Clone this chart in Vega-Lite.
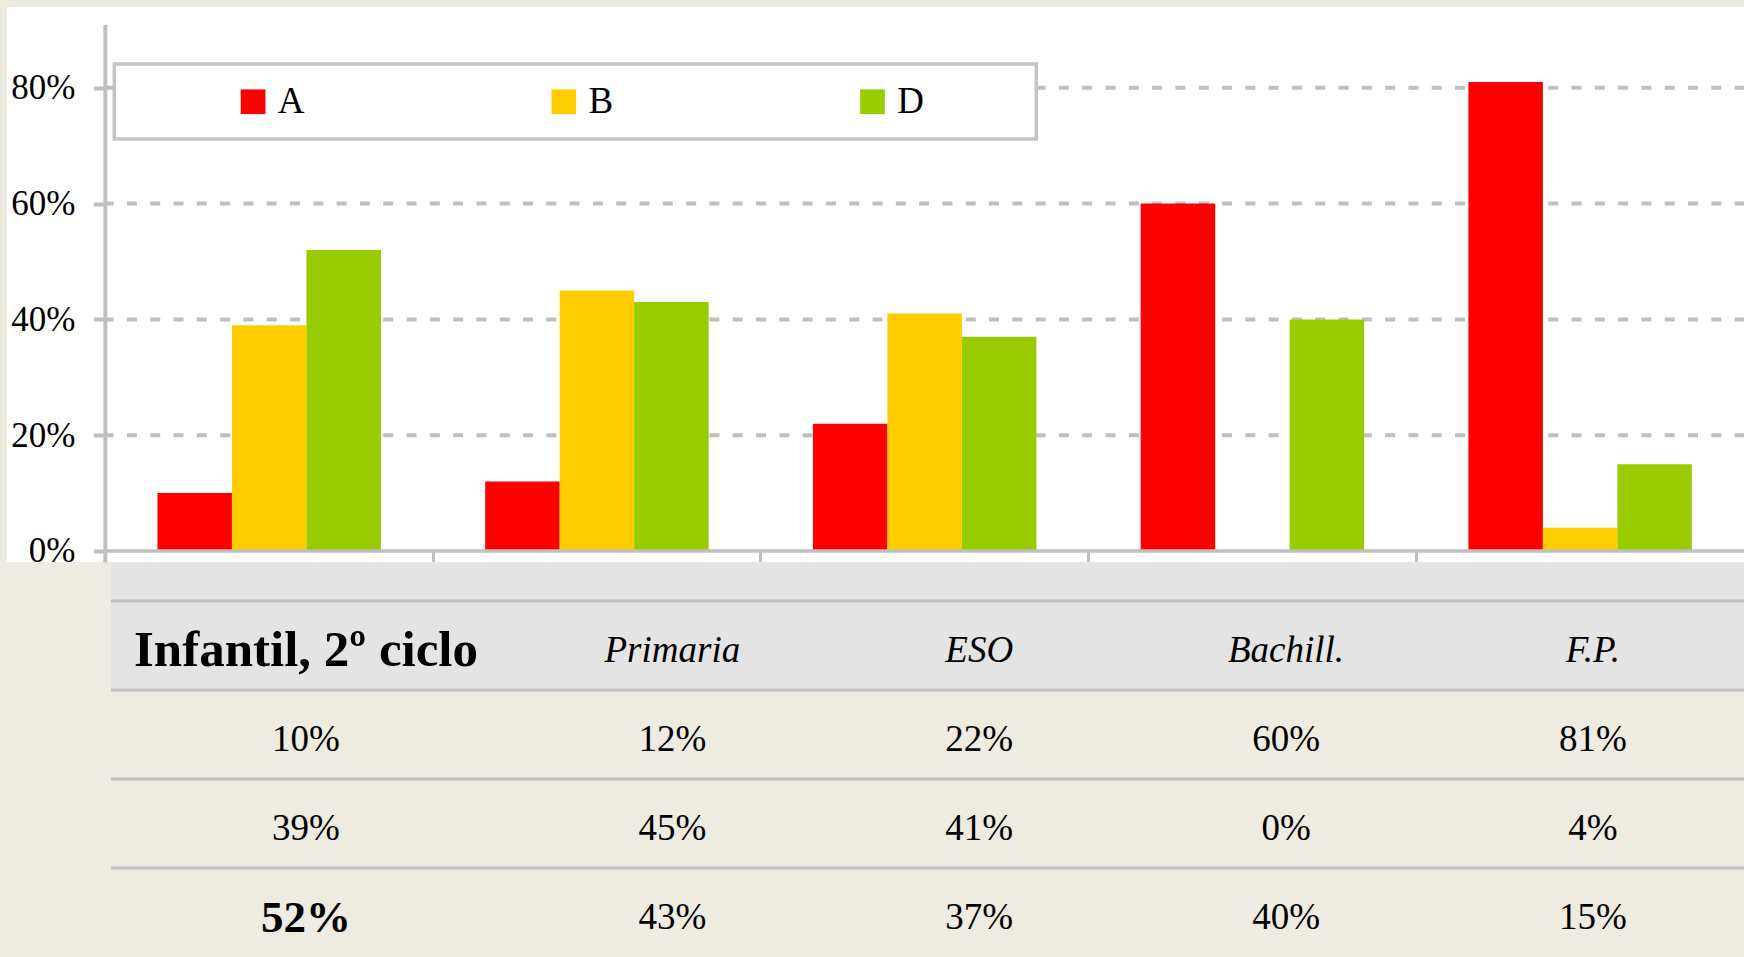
{
  "$schema": "https://vega.github.io/schema/vega-lite/v6.json",
  "background": "#EEEBE0",
  "padding": {"left": 7, "top": 7, "right": 0, "bottom": 0},
  "spacing": 0,
  "bounds": "flush",
  "config": {
    "font": "Liberation Serif",
    "view": {"stroke": null},
    "legend": {"strokeWidth": 3.5}
  },
  "datasets": {
    "valores": [
      {"nivel": "Infantil, 2º ciclo", "serie": "A", "valor": 0.10},
      {"nivel": "Infantil, 2º ciclo", "serie": "B", "valor": 0.39},
      {"nivel": "Infantil, 2º ciclo", "serie": "D", "valor": 0.52},
      {"nivel": "Primaria", "serie": "A", "valor": 0.12},
      {"nivel": "Primaria", "serie": "B", "valor": 0.45},
      {"nivel": "Primaria", "serie": "D", "valor": 0.43},
      {"nivel": "ESO", "serie": "A", "valor": 0.22},
      {"nivel": "ESO", "serie": "B", "valor": 0.41},
      {"nivel": "ESO", "serie": "D", "valor": 0.37},
      {"nivel": "Bachill.", "serie": "A", "valor": 0.60},
      {"nivel": "Bachill.", "serie": "B", "valor": 0.00},
      {"nivel": "Bachill.", "serie": "D", "valor": 0.40},
      {"nivel": "F.P.", "serie": "A", "valor": 0.81},
      {"nivel": "F.P.", "serie": "B", "valor": 0.04},
      {"nivel": "F.P.", "serie": "D", "valor": 0.15}
    ],
    "marcas": [{"p": 0}, {"p": 0.2}, {"p": 0.4}, {"p": 0.6}, {"p": 0.8}],
    "filas": [{"fila": "hdr"}, {"fila": "A"}, {"fila": "B"}, {"fila": "D"}]
  },
  "vconcat": [
    {
      "width": 1737,
      "height": 555,
      "view": {"fill": "#FFFFFF", "stroke": null},
      "layer": [
        {
          "data": {"name": "marcas"},
          "transform": [{"filter": "datum.p > 0"}],
          "mark": {"type": "rule", "stroke": "#BFBFBF", "strokeWidth": 4, "strokeDash": [10, 13.3], "strokeDashOffset": 1.7, "clip": true},
          "encoding": {
            "y": {"field": "p", "type": "quantitative", "scale": {"domain": [-0.019, 0.9396], "nice": false, "zero": false}},
            "x": {"datum": "Infantil, 2º ciclo", "type": "nominal", "bandPosition": 0, "scale": {"type": "band", "domain": ["Infantil, 2º ciclo", "Primaria", "ESO", "Bachill.", "F.P."], "paddingInner": 0, "paddingOuter": 0.15, "align": 1}},
            "x2": {"datum": "F.P.", "bandPosition": 1}
          }
        },
        {
          "data": {"name": "valores"},
          "mark": {"type": "bar"},
          "encoding": {
            "x": {
              "field": "nivel", "type": "nominal",
              "scale": {"type": "band", "domain": ["Infantil, 2º ciclo", "Primaria", "ESO", "Bachill.", "F.P."], "paddingInner": 0, "paddingOuter": 0.15, "align": 1},
              "axis": {"orient": "bottom", "offset": -11, "labels": false, "domain": false, "ticks": true, "bandPosition": 0, "tickExtra": false, "tickSize": 11, "tickWidth": 3, "tickColor": "#BFBFBF", "grid": false, "title": null}
            },
            "xOffset": {"field": "serie", "type": "nominal", "scale": {"paddingInner": 0, "paddingOuter": 0.7}},
            "y": {
              "field": "valor", "type": "quantitative",
              "scale": {"domain": [-0.019, 0.9396], "nice": false, "zero": false},
              "axis": {"orient": "left", "offset": -98.3, "values": [0, 0.2, 0.4, 0.6, 0.8], "format": ".0%", "domain": false, "grid": false, "labelFont": "Liberation Serif", "labelFontSize": 35, "labelColor": "#000000", "labelPadding": 18.3, "tickSize": 12, "tickWidth": 4, "tickColor": "#BFBFBF", "title": null}
            },
            "y2": {"datum": 0},
            "color": {
              "field": "serie", "type": "nominal",
              "scale": {"domain": ["A", "B", "D"], "range": ["#FF0000", "#FFCC00", "#99CC00"]},
              "legend": {
                "orient": "none", "legendX": 107.3, "legendY": 57,
                "direction": "horizontal", "gridAlign": "each",
                "title": ".", "titleOrient": "left", "titleFontSize": 10, "titleColor": "#FFFFFF", "titlePadding": 98.3,
                "padding": 19,
                "fillColor": "#FFFFFF", "strokeColor": "#C4C4C4",
                "symbolType": "square", "symbolSize": 610, "symbolStrokeWidth": 0, "symbolOpacity": 1,
                "labelFont": "Liberation Serif", "labelFontSize": 37, "labelColor": "#000000", "labelOffset": 6.2,
                "columnPadding": 240.7,
                "labelExpr": "datum.label === 'D' ? 'D\u00a0\u00a0\u00a0\u00a0\u00a0\u00a0\u00a0\u00a0\u00a0\u00a0\u200b' : datum.label"
              }
            }
          }
        },
        {
          "data": {"name": "marcas"},
          "transform": [{"filter": "datum.p == 0"}],
          "mark": {"type": "rule", "stroke": "#BFBFBF", "strokeWidth": 3.5, "clip": true},
          "encoding": {
            "y": {"field": "p", "type": "quantitative", "scale": {"domain": [-0.019, 0.9396], "nice": false, "zero": false}},
            "x": {"datum": "Infantil, 2º ciclo", "type": "nominal", "bandPosition": 0, "scale": {"type": "band", "domain": ["Infantil, 2º ciclo", "Primaria", "ESO", "Bachill.", "F.P."], "paddingInner": 0, "paddingOuter": 0.15, "align": 1}},
            "x2": {"datum": "F.P.", "bandPosition": 1}
          }
        },
        {
          "data": {"name": "marcas"},
          "transform": [{"filter": "datum.p == 0"}],
          "mark": {"type": "rule", "stroke": "#BFBFBF", "strokeWidth": 4, "clip": true},
          "encoding": {
            "x": {"datum": "Infantil, 2º ciclo", "type": "nominal", "bandPosition": 0, "scale": {"type": "band", "domain": ["Infantil, 2º ciclo", "Primaria", "ESO", "Bachill.", "F.P."], "paddingInner": 0, "paddingOuter": 0.15, "align": 1}},
            "y": {"datum": 0.9085, "type": "quantitative", "scale": {"domain": [-0.019, 0.9396], "nice": false, "zero": false}},
            "y2": {"datum": -0.019}
          }
        }
      ]
    },
    {
      "width": 1737,
      "height": 395,
      "view": {"stroke": null},
      "resolve": {"scale": {"x": "independent"}},
      "layer": [
        {
          "data": {"name": "filas"},
          "transform": [{"filter": "datum.fila === 'hdr'"}],
          "mark": {"type": "rect", "fill": "#E4E4E4", "clip": true},
          "encoding": {
            "x": {"datum": "Infantil, 2º ciclo", "type": "nominal", "bandPosition": 0, "scale": {"type": "band", "domain": ["Infantil, 2º ciclo", "Primaria", "ESO", "Bachill.", "F.P."], "paddingInner": 0, "paddingOuter": 0.1592, "align": 1}, "axis": null},
            "x2": {"datum": "F.P.", "bandPosition": 1},
            "y": {"field": "fila", "type": "nominal", "bandPosition": -0.438, "scale": {"type": "band", "domain": ["hdr", "A", "B", "D"], "paddingInner": 0, "paddingOuter": 0.2191, "align": 1}, "axis": null},
            "y2": {"field": "fila", "bandPosition": 1}
          }
        },
        {
          "data": {"name": "filas"},
          "mark": {"type": "rule", "stroke": "#C0C0C0", "strokeWidth": 3, "clip": true},
          "encoding": {
            "x": {"datum": "Infantil, 2º ciclo", "type": "nominal", "bandPosition": 0, "scale": {"type": "band", "domain": ["Infantil, 2º ciclo", "Primaria", "ESO", "Bachill.", "F.P."], "paddingInner": 0, "paddingOuter": 0.1592, "align": 1}, "axis": null},
            "x2": {"datum": "F.P.", "bandPosition": 1},
            "y": {"field": "fila", "type": "nominal", "bandPosition": 0, "scale": {"type": "band", "domain": ["hdr", "A", "B", "D"], "paddingInner": 0, "paddingOuter": 0.2191, "align": 1}, "axis": null}
          }
        },
        {
          "resolve": {"scale": {"x": "independent"}},
          "layer": [
            {
              "data": {"name": "valores"},
              "transform": [{"filter": "datum.serie === 'A' && datum.nivel === 'Infantil, 2º ciclo'"}],
              "mark": {"type": "text", "font": "Liberation Serif", "fontSize": 51, "fontWeight": "bold", "color": "#000000", "align": "center", "baseline": "middle"},
              "encoding": {
                "x": {"field": "nivel", "type": "nominal", "scale": {"type": "point", "domain": ["Infantil, 2º ciclo", "Primaria", "ESO", "Bachill.", "F.P."], "padding": 0.8304, "align": 0.5867}, "axis": null},
                "y": {"datum": "hdr", "type": "nominal", "bandPosition": 0.56, "scale": {"type": "band", "domain": ["hdr", "A", "B", "D"], "paddingInner": 0, "paddingOuter": 0.2191, "align": 1}, "axis": null},
                "text": {"field": "nivel"}
              }
            },
            {
              "data": {"name": "valores"},
              "transform": [{"filter": "datum.serie === 'A' && datum.nivel !== 'Infantil, 2º ciclo'"}],
              "mark": {"type": "text", "font": "Liberation Serif", "fontSize": 37, "fontStyle": "italic", "color": "#000000", "align": "center", "baseline": "middle"},
              "encoding": {
                "x": {"field": "nivel", "type": "nominal", "scale": {"type": "point", "domain": ["Infantil, 2º ciclo", "Primaria", "ESO", "Bachill.", "F.P."], "padding": 0.8304, "align": 0.7035}, "axis": null},
                "y": {"datum": "hdr", "type": "nominal", "bandPosition": 0.56, "scale": {"type": "band", "domain": ["hdr", "A", "B", "D"], "paddingInner": 0, "paddingOuter": 0.2191, "align": 1}, "axis": null},
                "text": {"field": "nivel"}
              }
            },
            {
              "data": {"name": "valores"},
              "transform": [{"filter": "datum.nivel === 'Infantil, 2º ciclo' && datum.serie !== 'D'"}],
              "mark": {"type": "text", "font": "Liberation Serif", "fontSize": 37, "color": "#000000", "align": "center", "baseline": "middle"},
              "encoding": {
                "x": {"field": "nivel", "type": "nominal", "scale": {"type": "point", "domain": ["Infantil, 2º ciclo", "Primaria", "ESO", "Bachill.", "F.P."], "padding": 0.8304, "align": 0.5867}, "axis": null},
                "y": {"field": "serie", "type": "nominal", "bandPosition": 0.56, "scale": {"type": "band", "domain": ["hdr", "A", "B", "D"], "paddingInner": 0, "paddingOuter": 0.2191, "align": 1}, "axis": null},
                "text": {"field": "valor", "format": ".0%"}
              }
            },
            {
              "data": {"name": "valores"},
              "transform": [{"filter": "datum.nivel === 'Infantil, 2º ciclo' && datum.serie === 'D'"}],
              "mark": {"type": "text", "font": "Liberation Serif", "fontSize": 45, "fontWeight": "bold", "color": "#000000", "align": "center", "baseline": "middle"},
              "encoding": {
                "x": {"field": "nivel", "type": "nominal", "scale": {"type": "point", "domain": ["Infantil, 2º ciclo", "Primaria", "ESO", "Bachill.", "F.P."], "padding": 0.8304, "align": 0.5867}, "axis": null},
                "y": {"field": "serie", "type": "nominal", "bandPosition": 0.56, "scale": {"type": "band", "domain": ["hdr", "A", "B", "D"], "paddingInner": 0, "paddingOuter": 0.2191, "align": 1}, "axis": null},
                "text": {"field": "valor", "format": ".0%"}
              }
            },
            {
              "data": {"name": "valores"},
              "transform": [{"filter": "datum.nivel !== 'Infantil, 2º ciclo'"}],
              "mark": {"type": "text", "font": "Liberation Serif", "fontSize": 37, "color": "#000000", "align": "center", "baseline": "middle"},
              "encoding": {
                "x": {"field": "nivel", "type": "nominal", "scale": {"type": "point", "domain": ["Infantil, 2º ciclo", "Primaria", "ESO", "Bachill.", "F.P."], "padding": 0.8304, "align": 0.7035}, "axis": null},
                "y": {"field": "serie", "type": "nominal", "bandPosition": 0.56, "scale": {"type": "band", "domain": ["hdr", "A", "B", "D"], "paddingInner": 0, "paddingOuter": 0.2191, "align": 1}, "axis": null},
                "text": {"field": "valor", "format": ".0%"}
              }
            }
          ]
        }
      ]
    }
  ]
}
